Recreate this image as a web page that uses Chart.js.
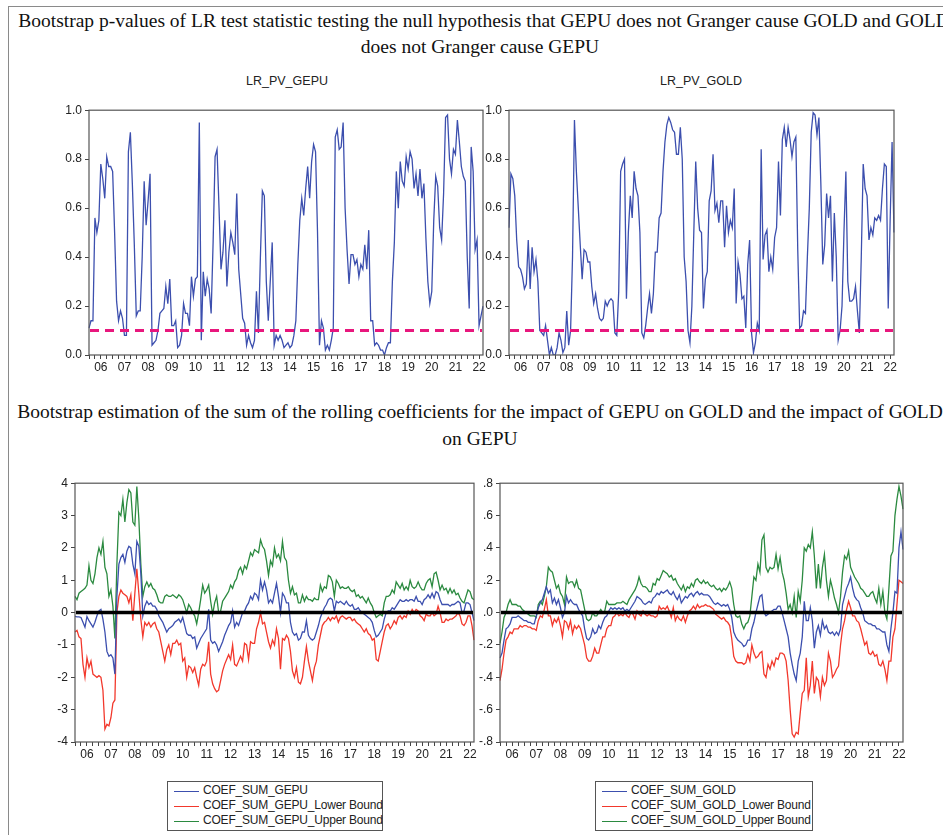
<!DOCTYPE html>
<html>
<head>
<meta charset="utf-8">
<script src="https://cdn.jsdelivr.net/npm/chart.js@4.4.1/dist/chart.umd.min.js"></script>
<style>
  body { margin: 0; background: #fff; width: 943px; height: 835px; overflow: hidden; position: relative; }
  .frame { position: absolute; left: 8px; top: 6px; width: 960px; height: 860px; border: 1.5px solid #8a8a8a; }
  .title { position: absolute; font-family: 'Liberation Serif', 'Times New Roman', serif; font-size: 19.5px; color: #111; white-space: nowrap; text-align: center; }
  .sub { position: absolute; font-family: 'Liberation Sans', Arial, sans-serif; font-size: 12.5px; color: #222; white-space: nowrap; transform: translateX(-50%); }
  canvas { position: absolute; }
  .legend { position: absolute; border: 1px solid #555; background: #fff; font-family: 'Liberation Sans', Arial, sans-serif; font-size: 12px; color: #222; box-sizing: border-box; padding-top: 1px; }
  .legend .row { height: 15px; line-height: 15px; white-space: nowrap; position: relative; padding-left: 35px; letter-spacing: -0.2px; }
  .legend .row span { position: absolute; left: 6px; top: 8px; width: 25px; height: 0; border-top: 1.5px solid; }
</style>
</head>
<body>
<div class="frame"></div>

<div class="title" style="left:-16px; width:1000px; top:10px;">Bootstrap p-values of LR test statistic testing the null hypothesis that GEPU does not Granger cause GOLD and GOLD</div>
<div class="title" style="left:-20px; width:1000px; top:36px;">does not Granger cause GEPU</div>
<div class="sub" style="left:287px; top:74px;">LR_PV_GEPU</div>
<div class="sub" style="left:701px; top:74px;">LR_PV_GOLD</div>

<canvas id="pvGepuChart" width="444" height="277" style="left:49px; top:100px;"></canvas>
<canvas id="pvGoldChart" width="435" height="277" style="left:469px; top:100px;"></canvas>

<div class="title" style="left:-20px; width:1000px; top:401px;">Bootstrap estimation of the sum of the rolling coefficients for the impact of GEPU on GOLD and the impact of GOLD</div>
<div class="title" style="left:-20px; width:1000px; top:428px;">on GEPU</div>

<canvas id="coefGepuChart" width="449" height="291" style="left:35px; top:473px;"></canvas>
<canvas id="coefGoldChart" width="453" height="291" style="left:460px; top:473px;"></canvas>

<div class="legend" id="legendGepu" style="left:167px; top:781px; width:216px; height:50px;"></div>
<div class="legend" id="legendGold" style="left:595px; top:781px; width:218px; height:50px;"></div>

<script>
// year tick labels under the x axis
const yearTicks = ['06','07','08','09','10','11','12','13','14','15','16','17','18','19','20','21','22'];
const PV_CUTOFF = 0.1;

// bootstrap p-values, monthly 2006M01..2022M09
const pvGepu = [
  0.11,0.14,0.14,0.56,0.50,0.55,0.78,0.72,0.64,0.81,0.77,0.77,
  0.75,0.50,0.22,0.14,0.18,0.15,0.08,0.08,0.83,0.91,0.70,0.45,
  0.16,0.18,0.18,0.40,0.71,0.53,0.63,0.74,0.04,0.05,0.06,0.10,
  0.17,0.18,0.19,0.28,0.21,0.31,0.12,0.12,0.14,0.03,0.04,0.08,
  0.21,0.17,0.17,0.12,0.32,0.24,0.31,0.32,0.95,0.06,0.34,0.24,
  0.31,0.27,0.17,0.46,0.81,0.84,0.60,0.35,0.42,0.55,0.28,0.42,
  0.50,0.46,0.41,0.66,0.35,0.25,0.15,0.13,0.04,0.08,0.05,0.03,
  0.06,0.26,0.09,0.40,0.67,0.65,0.30,0.14,0.30,0.46,0.04,0.08,
  0.06,0.08,0.06,0.03,0.04,0.05,0.03,0.04,0.08,0.14,0.37,0.55,
  0.64,0.57,0.68,0.77,0.64,0.79,0.86,0.83,0.50,0.04,0.14,0.11,
  0.02,0.04,0.02,0.06,0.11,0.89,0.92,0.84,0.85,0.95,0.60,0.43,
  0.29,0.41,0.41,0.37,0.39,0.32,0.37,0.35,0.45,0.35,0.51,0.14,
  0.14,0.04,0.05,0.04,0.02,0.02,0.00,0.03,0.05,0.05,0.30,0.46,
  0.75,0.60,0.79,0.71,0.69,0.81,0.76,0.83,0.80,0.68,0.74,0.65,
  0.76,0.64,0.70,0.48,0.30,0.21,0.26,0.55,0.73,0.69,0.52,0.47,
  0.66,0.97,0.98,0.80,0.74,0.84,0.82,0.96,0.87,0.77,0.73,0.71,
  0.40,0.19,0.85,0.75,0.43,0.47,0.12,0.16,0.20
];
const pvGold = [
  0.52,0.74,0.72,0.65,0.47,0.36,0.35,0.32,0.27,0.29,0.47,0.27,
  0.44,0.34,0.39,0.30,0.10,0.09,0.08,0.12,0.06,0.00,0.03,0.00,
  0.00,0.03,0.09,0.06,0.01,0.03,0.18,0.04,0.10,0.40,0.96,0.75,
  0.60,0.45,0.31,0.43,0.42,0.38,0.38,0.28,0.21,0.25,0.19,0.15,
  0.14,0.15,0.22,0.20,0.22,0.23,0.22,0.09,0.08,0.26,0.75,0.78,
  0.80,0.23,0.50,0.65,0.56,0.75,0.68,0.65,0.50,0.09,0.07,0.12,
  0.19,0.25,0.17,0.25,0.42,0.42,0.56,0.58,0.75,0.87,0.94,0.97,
  0.95,0.92,0.91,0.82,0.82,0.93,0.80,0.40,0.30,0.10,0.05,0.20,
  0.50,0.79,0.60,0.51,0.50,0.19,0.31,0.34,0.63,0.67,0.82,0.59,
  0.62,0.54,0.63,0.63,0.44,0.61,0.50,0.55,0.52,0.68,0.21,0.38,
  0.33,0.23,0.24,0.11,0.37,0.47,0.09,0.01,0.05,0.13,0.10,0.84,
  0.39,0.49,0.51,0.34,0.40,0.35,0.48,0.52,0.79,0.57,0.88,0.93,
  0.85,0.93,0.88,0.81,0.87,0.89,0.43,0.11,0.12,0.18,0.17,0.40,
  0.60,0.91,0.99,0.98,0.90,0.97,0.70,0.37,0.45,0.66,0.56,0.65,
  0.30,0.58,0.40,0.06,0.10,0.20,0.50,0.75,0.30,0.22,0.22,0.23,
  0.28,0.18,0.09,0.40,0.78,0.68,0.65,0.47,0.52,0.49,0.56,0.55,
  0.57,0.55,0.68,0.78,0.77,0.19,0.55,0.87,0.50
];

// sum of rolling coefficients: impact of GEPU on GOLD
const coefGepu = [
  -0.12,-0.13,-0.13,-0.15,-0.3,-0.45,-0.12,-0.25,-0.35,-0.45,-0.3,-0.1,
  0.05,0.1,-0.2,-0.6,-1.2,-1.35,-1.3,-1.4,-1.9,0.5,1.5,1.7,
  1.8,1.55,1.9,2.05,2.0,1.5,1.2,2.2,2.05,1.2,-0.1,0.2,
  0.35,0.25,0.3,0.2,0.2,0.1,-0.1,-0.2,-0.3,-0.45,-0.6,-0.5,
  -0.45,-0.4,-0.3,-0.25,-0.2,-0.3,-0.15,-0.4,-0.65,-0.7,-0.7,-0.8,
  -0.75,-1.1,-0.95,-0.8,-0.7,-0.6,-0.5,0.1,-0.85,-0.95,-0.9,-1.0,
  -1.2,-1.05,-0.9,-0.7,-0.55,-0.4,-0.3,0.05,-0.45,-0.3,-0.4,-0.2,
  0.0,0.05,0.2,0.3,0.5,0.4,0.6,0.55,0.4,1.0,0.7,0.95,
  0.7,0.3,0.4,0.3,0.6,0.9,0.5,0.0,0.6,0.5,0.3,0.3,
  -0.3,-0.6,-0.7,-0.65,-0.85,-0.8,-0.6,-0.6,-0.25,-0.7,-0.8,-0.85,
  -0.8,-0.6,-0.4,-0.15,0.0,0.15,0.25,0.4,0.45,0.4,0.05,0.35,
  0.3,0.35,0.3,0.25,0.35,0.25,0.2,0.25,0.1,0.1,0.15,0.05,
  0.0,-0.05,-0.1,-0.15,-0.2,-0.3,-0.55,-0.75,-0.7,-0.6,-0.5,-0.2,
  0.0,0.05,0.05,0.15,0.1,0.2,0.3,0.4,0.35,0.35,0.4,0.35,
  0.4,0.4,0.35,0.5,0.35,0.35,0.25,0.4,0.45,0.55,0.45,0.6,
  0.45,0.65,0.6,0.4,0.25,0.25,0.25,0.25,0.2,0.25,0.25,0.3,
  0.35,0.3,0.0,0.05,0.3,0.3,0.25,0.0,-0.25
];
const coefGepuLower = [
  -0.6,-0.55,-0.75,-0.8,-1.6,-2.0,-1.4,-1.7,-1.5,-1.9,-1.95,-2.0,
  -1.95,-2.0,-2.4,-3.6,-3.45,-3.5,-3.25,-2.8,-2.7,0.0,0.5,0.7,
  0.6,0.55,0.5,0.3,0.55,-0.25,0.6,1.35,0.6,-0.2,-0.75,-0.3,
  -0.4,-0.3,-0.45,-0.35,-0.3,-0.5,-0.6,-0.9,-1.2,-1.5,-1.15,-1.0,
  -1.3,-0.95,-0.95,-0.85,-1.0,-0.95,-1.5,-1.4,-2.0,-1.65,-1.7,-1.85,
  -1.7,-2.0,-2.25,-1.75,-1.6,-1.65,-1.5,-0.9,-1.9,-2.2,-2.35,-2.45,
  -2.4,-2.1,-1.8,-1.6,-1.45,-1.3,-1.45,-1.0,-1.6,-1.65,-1.5,-1.35,
  -1.5,-0.95,-1.0,-1.45,-0.9,-0.95,-0.95,-0.5,-0.3,0.0,-0.35,-0.3,
  -0.6,-0.9,-1.1,-0.85,-1.0,-0.5,-0.8,-1.75,-0.8,-0.85,-0.7,-0.8,
  -1.2,-1.8,-2.0,-1.7,-2.15,-2.2,-2.0,-1.5,-1.05,-1.5,-1.8,-2.1,
  -1.7,-1.5,-1.0,-0.7,-0.4,-0.3,-0.25,-0.15,-0.25,-0.15,-0.2,-0.1,
  -0.3,-0.15,-0.1,-0.15,-0.2,-0.15,-0.15,-0.25,-0.2,-0.3,-0.35,-0.4,
  -0.5,-0.6,-0.5,-0.65,-0.7,-0.85,-0.8,-1.45,-1.5,-1.2,-0.9,-0.6,
  -0.4,-0.35,-0.5,-0.4,-0.25,-0.35,-0.15,-0.1,-0.2,-0.1,-0.15,0.05,
  -0.05,0.1,0.0,0.1,0.05,-0.1,-0.15,-0.25,-0.05,-0.1,-0.1,0.0,
  -0.1,-0.05,0.2,0.0,-0.3,-0.3,-0.2,-0.25,-0.2,-0.2,-0.15,-0.1,
  0.0,-0.1,-0.35,-0.4,-0.3,-0.1,-0.1,-0.4,-0.85
];
const coefGepuUpper = [
  0.5,0.4,0.6,0.65,0.7,0.75,0.85,1.45,1.0,0.9,1.2,1.7,
  2.0,1.8,2.2,1.4,1.2,0.5,0.7,0.2,-0.8,1.5,3.1,3.0,
  3.5,2.8,3.4,3.8,3.7,2.8,2.7,3.9,2.9,1.5,0.5,0.8,
  0.95,0.8,0.9,0.75,0.7,0.55,0.35,0.3,0.3,0.5,0.55,0.5,
  0.5,0.55,0.5,0.45,0.55,0.5,0.4,0.2,0.0,0.25,0.15,0.0,
  -0.1,-0.35,0.0,0.4,0.85,0.6,0.7,0.85,0.35,-0.05,0.3,0.5,
  0.0,0.05,0.35,0.45,0.55,0.65,0.85,0.75,0.95,1.05,1.3,1.4,
  1.2,1.45,1.35,1.6,1.85,1.75,1.95,1.9,1.85,2.25,2.05,1.95,
  1.6,1.15,1.6,1.45,2.0,1.7,1.8,1.6,2.2,1.7,1.6,1.0,
  0.6,0.8,0.55,0.6,0.3,0.3,0.55,0.35,0.5,0.4,0.4,0.35,
  0.45,0.4,0.4,0.85,0.65,0.8,0.75,1.15,1.1,0.95,0.5,1.0,
  0.9,0.75,0.8,0.75,0.75,0.8,0.7,0.65,0.7,0.5,0.55,0.45,
  0.5,0.4,0.3,0.45,0.3,0.2,0.0,-0.15,-0.1,-0.05,-0.1,0.3,
  0.5,0.5,0.55,0.7,0.6,0.95,0.85,0.75,0.9,0.7,0.8,0.7,
  1.0,0.8,0.75,0.8,0.95,0.8,0.7,0.7,0.9,1.0,1.05,0.8,
  1.2,1.25,1.0,0.7,0.85,0.7,0.75,0.6,0.75,0.6,0.7,0.55,
  0.6,0.45,0.35,0.3,0.5,0.7,0.65,0.45,0.4
];

// sum of rolling coefficients: impact of GOLD on GEPU
const coefGold = [
  -0.28,-0.25,-0.17,-0.1,-0.09,-0.07,-0.03,-0.03,-0.03,-0.02,-0.03,-0.04,
  -0.05,-0.05,-0.06,-0.06,-0.07,-0.07,-0.02,0.03,0.06,0.08,0.12,0.16,
  0.12,0.14,0.06,0.09,0.05,0.08,0.03,-0.03,0.0,0.1,0.06,0.08,
  0.06,0.05,0.05,0.02,0.0,-0.02,-0.1,-0.16,-0.17,-0.15,-0.1,-0.13,
  -0.12,-0.08,-0.1,-0.06,-0.03,-0.02,0.01,0.03,0.02,0.03,0.02,0.03,
  0.02,0.03,0.01,0.02,0.01,0.03,0.05,0.07,0.1,0.09,0.08,0.06,
  0.05,0.06,0.07,0.06,0.09,0.1,0.12,0.11,0.13,0.12,0.13,0.14,
  0.12,0.11,0.13,0.1,0.08,0.11,0.06,0.08,0.1,0.09,0.11,0.12,
  0.1,0.12,0.13,0.11,0.12,0.11,0.11,0.11,0.1,0.08,0.06,0.05,
  0.06,0.05,0.04,0.05,0.04,0.05,0.02,-0.03,-0.12,-0.15,-0.17,-0.18,
  -0.19,-0.21,-0.2,-0.17,-0.17,-0.1,-0.06,0.0,0.05,0.1,0.11,0.0,
  -0.02,-0.01,0.0,0.01,0.02,0.02,0.04,0.04,0.0,-0.05,-0.1,-0.15,
  -0.25,-0.32,-0.38,-0.42,-0.3,-0.25,-0.15,0.07,-0.05,-0.05,0.03,-0.05,
  -0.22,-0.12,-0.08,-0.14,-0.05,-0.1,-0.08,-0.12,-0.13,-0.12,-0.14,-0.12,
  -0.14,-0.1,0.05,0.1,0.15,0.18,0.22,0.15,0.1,0.08,0.07,0.03,
  0.0,-0.05,-0.06,-0.07,-0.07,-0.08,-0.08,-0.1,-0.1,-0.11,-0.12,-0.12,
  -0.2,-0.24,-0.1,0.0,0.13,0.12,0.4,0.5,0.39
];
const coefGoldLower = [
  -0.42,-0.35,-0.25,-0.17,-0.15,-0.12,-0.13,-0.1,-0.1,-0.1,-0.08,-0.09,
  -0.08,-0.08,-0.09,-0.09,-0.1,-0.1,-0.11,-0.05,-0.02,-0.03,0.02,0.08,
  -0.02,-0.02,-0.08,-0.04,-0.06,-0.03,-0.08,-0.15,-0.05,-0.06,-0.1,-0.05,
  -0.13,-0.08,-0.1,-0.08,-0.1,-0.15,-0.2,-0.28,-0.3,-0.3,-0.27,-0.22,
  -0.25,-0.25,-0.2,-0.15,-0.15,-0.1,-0.08,-0.08,-0.03,-0.02,0.0,-0.02,
  -0.01,-0.02,0.0,-0.02,-0.03,0.0,-0.01,-0.04,0.01,-0.01,-0.02,0.01,
  -0.01,-0.02,-0.01,-0.02,-0.02,-0.03,-0.02,0.04,0.02,0.03,0.02,0.04,
  0.01,-0.03,0.03,-0.05,-0.02,-0.04,-0.05,-0.02,-0.06,-0.02,0.01,0.02,
  0.04,0.02,0.05,0.03,0.04,0.04,0.05,0.04,0.04,0.03,0.02,-0.01,
  -0.02,-0.03,-0.04,-0.03,-0.05,-0.06,-0.08,-0.16,-0.27,-0.3,-0.31,-0.31,
  -0.31,-0.32,-0.31,-0.26,-0.3,-0.2,-0.25,-0.28,-0.27,-0.25,-0.24,-0.38,
  -0.4,-0.32,-0.35,-0.3,-0.33,-0.28,-0.29,-0.25,-0.25,-0.26,-0.3,-0.42,
  -0.6,-0.75,-0.77,-0.74,-0.75,-0.62,-0.5,-0.48,-0.28,-0.52,-0.45,-0.3,
  -0.5,-0.4,-0.42,-0.52,-0.4,-0.45,-0.42,-0.25,-0.3,-0.4,-0.38,-0.35,
  -0.33,-0.2,-0.1,-0.05,0.02,0.07,0.03,-0.02,-0.02,-0.05,-0.06,-0.1,
  -0.15,-0.2,-0.18,-0.25,-0.26,-0.24,-0.27,-0.26,-0.32,-0.33,-0.3,-0.35,
  -0.42,-0.3,-0.3,-0.15,-0.1,0.05,0.2,0.19,0.18
];
const coefGoldUpper = [
  -0.19,-0.12,-0.03,0.0,0.05,0.08,0.05,0.05,0.05,0.04,0.04,0.02,
  0.01,0.0,-0.01,-0.02,-0.02,-0.02,-0.03,0.05,0.07,0.05,0.1,0.16,
  0.28,0.26,0.25,0.2,0.15,0.17,0.12,0.1,0.05,0.22,0.18,0.19,
  0.19,0.16,0.2,0.15,0.14,0.08,0.02,-0.04,-0.05,-0.04,0.0,-0.02,
  -0.02,0.0,0.02,0.0,0.01,0.07,0.05,0.05,0.05,0.05,0.06,0.06,
  0.06,0.07,0.06,0.05,0.08,0.1,0.12,0.14,0.17,0.22,0.18,0.16,
  0.16,0.15,0.13,0.13,0.18,0.17,0.21,0.2,0.23,0.26,0.25,0.24,
  0.22,0.23,0.2,0.21,0.18,0.16,0.14,0.17,0.13,0.16,0.15,0.18,
  0.16,0.2,0.21,0.19,0.18,0.2,0.18,0.19,0.17,0.16,0.17,0.15,
  0.14,0.15,0.13,0.15,0.14,0.16,0.19,0.15,0.05,-0.02,-0.03,-0.02,
  -0.07,-0.1,-0.07,-0.06,-0.02,0.1,0.22,0.2,0.3,0.25,0.45,0.48,
  0.28,0.25,0.28,0.27,0.28,0.36,0.27,0.34,0.25,0.2,0.12,0.02,
  0.05,0.0,0.1,-0.03,0.13,0.07,0.2,0.4,0.38,0.42,0.4,0.5,
  0.35,0.15,0.3,0.15,0.28,0.36,0.2,0.1,0.2,0.15,0.09,0.05,
  0.0,0.1,0.25,0.35,0.33,0.38,0.28,0.25,0.22,0.2,0.18,0.15,
  0.14,0.12,0.1,0.1,0.12,0.13,0.09,0.06,0.15,0.05,0.13,0.0,
  -0.04,0.15,0.35,0.38,0.6,0.7,0.78,0.72,0.64
];

const BLUE = '#3c4fae';
const RED = '#f2382c';
const GREEN = '#2b8a40';

// monthly categories 2006M01 ...
const months = [];
for (let i = 0; i < pvGepu.length; i++) {
  const y = 2006 + Math.floor(i / 12);
  months.push(y + 'M' + String(i % 12 + 1).padStart(2, '0'));
}

const tickFont = { family: "'Liberation Sans', Arial, sans-serif", size: 12 };

// plot box + reference line (p-value cutoff / zero line)
const framePlugin = {
  id: 'frame',
  afterDatasetsDraw(chart, args, opts) {
    const { ctx, chartArea: a } = chart;
    const y = chart.scales.y;
    ctx.save();
    if (opts.refValue !== undefined) {
      const py = y.getPixelForValue(opts.refValue);
      ctx.beginPath();
      ctx.strokeStyle = opts.refColor;
      ctx.lineWidth = opts.refWidth;
      ctx.setLineDash(opts.refDash || []);
      ctx.moveTo(a.left + 1, py);
      ctx.lineTo(a.right - 1, py);
      ctx.stroke();
      ctx.setLineDash([]);
    }
    ctx.strokeStyle = '#555';
    ctx.lineWidth = 1.2;
    ctx.strokeRect(a.left, a.top, a.width, a.height);
    ctx.restore();
  }
};

function makeChart(id, series, yMin, yMax, yStep, yFmt, ref) {
  return new Chart(document.getElementById(id), {
    type: 'line',
    data: {
      labels: months,
      datasets: series.map(s => ({
        label: s.label,
        data: s.data,
        borderColor: s.color,
        borderWidth: 1.3,
        pointRadius: 0,
        tension: 0,
        fill: false
      }))
    },
    options: {
      responsive: false,
      animation: false,
      events: [],
      layout: { padding: { top: 10, right: 10, left: 0, bottom: 0 } },
      plugins: {
        legend: { display: false },
        tooltip: { enabled: false },
        frame: ref
      },
      scales: {
        x: {
          type: 'category',
          border: { display: false },
          grid: {
            drawOnChartArea: false,
            tickLength: 4,
            tickColor: ctx => (ctx.index % 3 === 0 ? '#444' : 'rgba(0,0,0,0)')
          },
          ticks: {
            autoSkip: false,
            maxRotation: 0,
            minRotation: 0,
            padding: 1,
            color: '#222',
            font: tickFont,
            callback: (v, i) => (i % 12 === 6 ? yearTicks[Math.floor(i / 12)] : '')
          },
          afterFit: s => { s.height = 22; }
        },
        y: {
          min: yMin,
          max: yMax,
          border: { display: false },
          grid: { drawOnChartArea: false, tickLength: 4, tickColor: '#444' },
          ticks: { stepSize: yStep, padding: 3, color: '#222', font: tickFont, callback: yFmt },
          afterFit: s => { s.width = 40; }
        }
      }
    },
    plugins: [framePlugin]
  });
}

const fmtOne = v => (Math.round(v * 10) / 10).toFixed(1);
const fmtInt = v => String(Math.round(v));
const fmtEviews = v => {
  const s = (Math.round(v * 10) / 10).toFixed(1);
  return s.replace('0.', '.');
};

const pvRef = { refValue: PV_CUTOFF, refColor: '#e8177d', refWidth: 3, refDash: [9, 6] };
const zeroRef = { refValue: 0, refColor: '#000', refWidth: 3.5 };

makeChart('pvGepuChart', [{ label: 'LR_PV_GEPU', data: pvGepu, color: BLUE }], 0, 1, 0.2, fmtOne, pvRef);
makeChart('pvGoldChart', [{ label: 'LR_PV_GOLD', data: pvGold, color: BLUE }], 0, 1, 0.2, fmtOne, pvRef);

const gepuSeries = [
  { label: 'COEF_SUM_GEPU', data: coefGepu, color: BLUE },
  { label: 'COEF_SUM_GEPU_Lower Bound', data: coefGepuLower, color: RED },
  { label: 'COEF_SUM_GEPU_Upper Bound', data: coefGepuUpper, color: GREEN }
];
const goldSeries = [
  { label: 'COEF_SUM_GOLD', data: coefGold, color: BLUE },
  { label: 'COEF_SUM_GOLD_Lower Bound', data: coefGoldLower, color: RED },
  { label: 'COEF_SUM_GOLD_Upper Bound', data: coefGoldUpper, color: GREEN }
];
makeChart('coefGepuChart', gepuSeries, -4, 4, 1, fmtInt, zeroRef);
makeChart('coefGoldChart', goldSeries, -0.8, 0.8, 0.2, fmtEviews, zeroRef);

function buildLegend(id, series) {
  const box = document.getElementById(id);
  series.forEach(s => {
    const row = document.createElement('div');
    row.className = 'row';
    const line = document.createElement('span');
    line.style.borderColor = s.color;
    row.appendChild(line);
    row.appendChild(document.createTextNode(s.label));
    box.appendChild(row);
  });
}
buildLegend('legendGepu', gepuSeries);
buildLegend('legendGold', goldSeries);
</script>
</body>
</html>
